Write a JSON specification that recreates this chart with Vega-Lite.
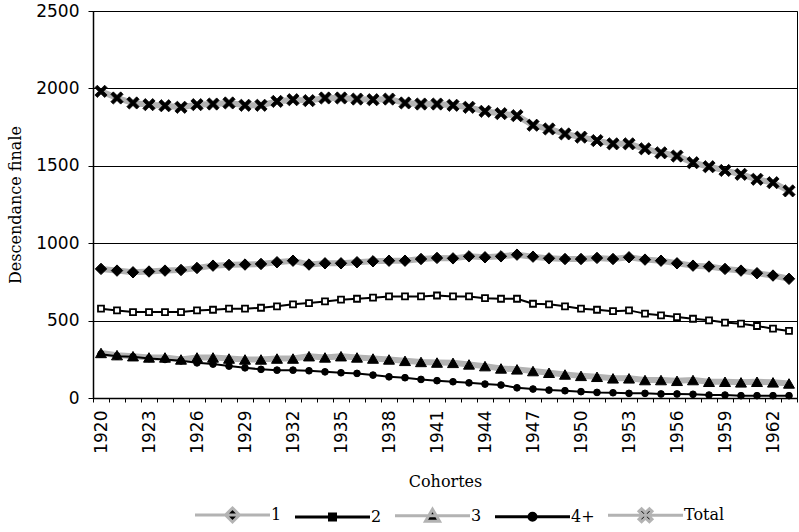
{
  "$schema": "https://vega.github.io/schema/vega-lite/v6.json",
  "width": 704,
  "height": 387,
  "autosize": "none",
  "padding": {"left": 93, "top": 11, "right": 2, "bottom": 134},
  "background": "white",
  "config": {
    "view": {"stroke": "#000", "strokeWidth": 1},
    "axis": {"labelColor": "#000", "titleColor": "#000", "domainColor": "#000", "tickColor": "#000"}
  },
  "data": {
    "values": [
      {"cohorte": 1920, "serie": "1", "valeur": 834}, {"cohorte": 1921, "serie": "1", "valeur": 823},
      {"cohorte": 1922, "serie": "1", "valeur": 812}, {"cohorte": 1923, "serie": "1", "valeur": 817},
      {"cohorte": 1924, "serie": "1", "valeur": 823}, {"cohorte": 1925, "serie": "1", "valeur": 827},
      {"cohorte": 1926, "serie": "1", "valeur": 840}, {"cohorte": 1927, "serie": "1", "valeur": 855},
      {"cohorte": 1928, "serie": "1", "valeur": 860}, {"cohorte": 1929, "serie": "1", "valeur": 862},
      {"cohorte": 1930, "serie": "1", "valeur": 866}, {"cohorte": 1931, "serie": "1", "valeur": 877},
      {"cohorte": 1932, "serie": "1", "valeur": 887}, {"cohorte": 1933, "serie": "1", "valeur": 862},
      {"cohorte": 1934, "serie": "1", "valeur": 870}, {"cohorte": 1935, "serie": "1", "valeur": 870},
      {"cohorte": 1936, "serie": "1", "valeur": 877}, {"cohorte": 1937, "serie": "1", "valeur": 883},
      {"cohorte": 1938, "serie": "1", "valeur": 887}, {"cohorte": 1939, "serie": "1", "valeur": 887},
      {"cohorte": 1940, "serie": "1", "valeur": 898}, {"cohorte": 1941, "serie": "1", "valeur": 905},
      {"cohorte": 1942, "serie": "1", "valeur": 902}, {"cohorte": 1943, "serie": "1", "valeur": 915},
      {"cohorte": 1944, "serie": "1", "valeur": 909}, {"cohorte": 1945, "serie": "1", "valeur": 915},
      {"cohorte": 1946, "serie": "1", "valeur": 926}, {"cohorte": 1947, "serie": "1", "valeur": 913},
      {"cohorte": 1948, "serie": "1", "valeur": 902}, {"cohorte": 1949, "serie": "1", "valeur": 898},
      {"cohorte": 1950, "serie": "1", "valeur": 898}, {"cohorte": 1951, "serie": "1", "valeur": 905},
      {"cohorte": 1952, "serie": "1", "valeur": 898}, {"cohorte": 1953, "serie": "1", "valeur": 909},
      {"cohorte": 1954, "serie": "1", "valeur": 894}, {"cohorte": 1955, "serie": "1", "valeur": 887},
      {"cohorte": 1956, "serie": "1", "valeur": 870}, {"cohorte": 1957, "serie": "1", "valeur": 855},
      {"cohorte": 1958, "serie": "1", "valeur": 849}, {"cohorte": 1959, "serie": "1", "valeur": 834},
      {"cohorte": 1960, "serie": "1", "valeur": 823}, {"cohorte": 1961, "serie": "1", "valeur": 806},
      {"cohorte": 1962, "serie": "1", "valeur": 791}, {"cohorte": 1963, "serie": "1", "valeur": 770},

      {"cohorte": 1920, "serie": "2", "valeur": 577}, {"cohorte": 1921, "serie": "2", "valeur": 566},
      {"cohorte": 1922, "serie": "2", "valeur": 555}, {"cohorte": 1923, "serie": "2", "valeur": 555},
      {"cohorte": 1924, "serie": "2", "valeur": 555}, {"cohorte": 1925, "serie": "2", "valeur": 555},
      {"cohorte": 1926, "serie": "2", "valeur": 566}, {"cohorte": 1927, "serie": "2", "valeur": 570},
      {"cohorte": 1928, "serie": "2", "valeur": 577}, {"cohorte": 1929, "serie": "2", "valeur": 577},
      {"cohorte": 1930, "serie": "2", "valeur": 583}, {"cohorte": 1931, "serie": "2", "valeur": 592},
      {"cohorte": 1932, "serie": "2", "valeur": 605}, {"cohorte": 1933, "serie": "2", "valeur": 613},
      {"cohorte": 1934, "serie": "2", "valeur": 624}, {"cohorte": 1935, "serie": "2", "valeur": 635},
      {"cohorte": 1936, "serie": "2", "valeur": 641}, {"cohorte": 1937, "serie": "2", "valeur": 648},
      {"cohorte": 1938, "serie": "2", "valeur": 656}, {"cohorte": 1939, "serie": "2", "valeur": 656},
      {"cohorte": 1940, "serie": "2", "valeur": 656}, {"cohorte": 1941, "serie": "2", "valeur": 662},
      {"cohorte": 1942, "serie": "2", "valeur": 656}, {"cohorte": 1943, "serie": "2", "valeur": 656},
      {"cohorte": 1944, "serie": "2", "valeur": 645}, {"cohorte": 1945, "serie": "2", "valeur": 641},
      {"cohorte": 1946, "serie": "2", "valeur": 641}, {"cohorte": 1947, "serie": "2", "valeur": 609},
      {"cohorte": 1948, "serie": "2", "valeur": 605}, {"cohorte": 1949, "serie": "2", "valeur": 592},
      {"cohorte": 1950, "serie": "2", "valeur": 577}, {"cohorte": 1951, "serie": "2", "valeur": 570},
      {"cohorte": 1952, "serie": "2", "valeur": 561}, {"cohorte": 1953, "serie": "2", "valeur": 566},
      {"cohorte": 1954, "serie": "2", "valeur": 545}, {"cohorte": 1955, "serie": "2", "valeur": 534},
      {"cohorte": 1956, "serie": "2", "valeur": 523}, {"cohorte": 1957, "serie": "2", "valeur": 512},
      {"cohorte": 1958, "serie": "2", "valeur": 502}, {"cohorte": 1959, "serie": "2", "valeur": 487},
      {"cohorte": 1960, "serie": "2", "valeur": 480}, {"cohorte": 1961, "serie": "2", "valeur": 465},
      {"cohorte": 1962, "serie": "2", "valeur": 448}, {"cohorte": 1963, "serie": "2", "valeur": 433},

      {"cohorte": 1920, "serie": "3", "valeur": 291}, {"cohorte": 1921, "serie": "3", "valeur": 277},
      {"cohorte": 1922, "serie": "3", "valeur": 270}, {"cohorte": 1923, "serie": "3", "valeur": 262},
      {"cohorte": 1924, "serie": "3", "valeur": 262}, {"cohorte": 1925, "serie": "3", "valeur": 249},
      {"cohorte": 1926, "serie": "3", "valeur": 262}, {"cohorte": 1927, "serie": "3", "valeur": 262},
      {"cohorte": 1928, "serie": "3", "valeur": 255}, {"cohorte": 1929, "serie": "3", "valeur": 249},
      {"cohorte": 1930, "serie": "3", "valeur": 249}, {"cohorte": 1931, "serie": "3", "valeur": 255},
      {"cohorte": 1932, "serie": "3", "valeur": 255}, {"cohorte": 1933, "serie": "3", "valeur": 270},
      {"cohorte": 1934, "serie": "3", "valeur": 262}, {"cohorte": 1935, "serie": "3", "valeur": 270},
      {"cohorte": 1936, "serie": "3", "valeur": 262}, {"cohorte": 1937, "serie": "3", "valeur": 255},
      {"cohorte": 1938, "serie": "3", "valeur": 249}, {"cohorte": 1939, "serie": "3", "valeur": 240},
      {"cohorte": 1940, "serie": "3", "valeur": 233}, {"cohorte": 1941, "serie": "3", "valeur": 229},
      {"cohorte": 1942, "serie": "3", "valeur": 227}, {"cohorte": 1943, "serie": "3", "valeur": 217},
      {"cohorte": 1944, "serie": "3", "valeur": 206}, {"cohorte": 1945, "serie": "3", "valeur": 191},
      {"cohorte": 1946, "serie": "3", "valeur": 185}, {"cohorte": 1947, "serie": "3", "valeur": 174},
      {"cohorte": 1948, "serie": "3", "valeur": 163}, {"cohorte": 1949, "serie": "3", "valeur": 152},
      {"cohorte": 1950, "serie": "3", "valeur": 143}, {"cohorte": 1951, "serie": "3", "valeur": 137},
      {"cohorte": 1952, "serie": "3", "valeur": 127}, {"cohorte": 1953, "serie": "3", "valeur": 127},
      {"cohorte": 1954, "serie": "3", "valeur": 116}, {"cohorte": 1955, "serie": "3", "valeur": 116},
      {"cohorte": 1956, "serie": "3", "valeur": 111}, {"cohorte": 1957, "serie": "3", "valeur": 116},
      {"cohorte": 1958, "serie": "3", "valeur": 105}, {"cohorte": 1959, "serie": "3", "valeur": 105},
      {"cohorte": 1960, "serie": "3", "valeur": 101}, {"cohorte": 1961, "serie": "3", "valeur": 105},
      {"cohorte": 1962, "serie": "3", "valeur": 101}, {"cohorte": 1963, "serie": "3", "valeur": 94},

      {"cohorte": 1920, "serie": "4+", "valeur": 283}, {"cohorte": 1921, "serie": "4+", "valeur": 270},
      {"cohorte": 1922, "serie": "4+", "valeur": 266}, {"cohorte": 1923, "serie": "4+", "valeur": 255},
      {"cohorte": 1924, "serie": "4+", "valeur": 249}, {"cohorte": 1925, "serie": "4+", "valeur": 240},
      {"cohorte": 1926, "serie": "4+", "valeur": 227}, {"cohorte": 1927, "serie": "4+", "valeur": 219},
      {"cohorte": 1928, "serie": "4+", "valeur": 206}, {"cohorte": 1929, "serie": "4+", "valeur": 195},
      {"cohorte": 1930, "serie": "4+", "valeur": 185}, {"cohorte": 1931, "serie": "4+", "valeur": 180},
      {"cohorte": 1932, "serie": "4+", "valeur": 180}, {"cohorte": 1933, "serie": "4+", "valeur": 176},
      {"cohorte": 1934, "serie": "4+", "valeur": 169}, {"cohorte": 1935, "serie": "4+", "valeur": 163},
      {"cohorte": 1936, "serie": "4+", "valeur": 159}, {"cohorte": 1937, "serie": "4+", "valeur": 148},
      {"cohorte": 1938, "serie": "4+", "valeur": 137}, {"cohorte": 1939, "serie": "4+", "valeur": 131},
      {"cohorte": 1940, "serie": "4+", "valeur": 120}, {"cohorte": 1941, "serie": "4+", "valeur": 112},
      {"cohorte": 1942, "serie": "4+", "valeur": 105}, {"cohorte": 1943, "serie": "4+", "valeur": 98},
      {"cohorte": 1944, "serie": "4+", "valeur": 90}, {"cohorte": 1945, "serie": "4+", "valeur": 84},
      {"cohorte": 1946, "serie": "4+", "valeur": 66}, {"cohorte": 1947, "serie": "4+", "valeur": 58},
      {"cohorte": 1948, "serie": "4+", "valeur": 51}, {"cohorte": 1949, "serie": "4+", "valeur": 47},
      {"cohorte": 1950, "serie": "4+", "valeur": 41}, {"cohorte": 1951, "serie": "4+", "valeur": 36},
      {"cohorte": 1952, "serie": "4+", "valeur": 34}, {"cohorte": 1953, "serie": "4+", "valeur": 30},
      {"cohorte": 1954, "serie": "4+", "valeur": 30}, {"cohorte": 1955, "serie": "4+", "valeur": 26},
      {"cohorte": 1956, "serie": "4+", "valeur": 26}, {"cohorte": 1957, "serie": "4+", "valeur": 24},
      {"cohorte": 1958, "serie": "4+", "valeur": 19}, {"cohorte": 1959, "serie": "4+", "valeur": 19},
      {"cohorte": 1960, "serie": "4+", "valeur": 15}, {"cohorte": 1961, "serie": "4+", "valeur": 15},
      {"cohorte": 1962, "serie": "4+", "valeur": 15}, {"cohorte": 1963, "serie": "4+", "valeur": 15},

      {"cohorte": 1920, "serie": "Total", "valeur": 1981}, {"cohorte": 1921, "serie": "Total", "valeur": 1938},
      {"cohorte": 1922, "serie": "Total", "valeur": 1906}, {"cohorte": 1923, "serie": "Total", "valeur": 1895},
      {"cohorte": 1924, "serie": "Total", "valeur": 1888}, {"cohorte": 1925, "serie": "Total", "valeur": 1878},
      {"cohorte": 1926, "serie": "Total", "valeur": 1895}, {"cohorte": 1927, "serie": "Total", "valeur": 1899},
      {"cohorte": 1928, "serie": "Total", "valeur": 1906}, {"cohorte": 1929, "serie": "Total", "valeur": 1891},
      {"cohorte": 1930, "serie": "Total", "valeur": 1891}, {"cohorte": 1931, "serie": "Total", "valeur": 1916},
      {"cohorte": 1932, "serie": "Total", "valeur": 1927}, {"cohorte": 1933, "serie": "Total", "valeur": 1921},
      {"cohorte": 1934, "serie": "Total", "valeur": 1938}, {"cohorte": 1935, "serie": "Total", "valeur": 1938},
      {"cohorte": 1936, "serie": "Total", "valeur": 1931}, {"cohorte": 1937, "serie": "Total", "valeur": 1927},
      {"cohorte": 1938, "serie": "Total", "valeur": 1931}, {"cohorte": 1939, "serie": "Total", "valeur": 1906},
      {"cohorte": 1940, "serie": "Total", "valeur": 1899}, {"cohorte": 1941, "serie": "Total", "valeur": 1899},
      {"cohorte": 1942, "serie": "Total", "valeur": 1891}, {"cohorte": 1943, "serie": "Total", "valeur": 1878},
      {"cohorte": 1944, "serie": "Total", "valeur": 1852}, {"cohorte": 1945, "serie": "Total", "valeur": 1837},
      {"cohorte": 1946, "serie": "Total", "valeur": 1824}, {"cohorte": 1947, "serie": "Total", "valeur": 1762},
      {"cohorte": 1948, "serie": "Total", "valeur": 1738}, {"cohorte": 1949, "serie": "Total", "valeur": 1706},
      {"cohorte": 1950, "serie": "Total", "valeur": 1685}, {"cohorte": 1951, "serie": "Total", "valeur": 1663},
      {"cohorte": 1952, "serie": "Total", "valeur": 1642}, {"cohorte": 1953, "serie": "Total", "valeur": 1642},
      {"cohorte": 1954, "serie": "Total", "valeur": 1610}, {"cohorte": 1955, "serie": "Total", "valeur": 1584},
      {"cohorte": 1956, "serie": "Total", "valeur": 1563}, {"cohorte": 1957, "serie": "Total", "valeur": 1520},
      {"cohorte": 1958, "serie": "Total", "valeur": 1494}, {"cohorte": 1959, "serie": "Total", "valeur": 1470},
      {"cohorte": 1960, "serie": "Total", "valeur": 1445}, {"cohorte": 1961, "serie": "Total", "valeur": 1413},
      {"cohorte": 1962, "serie": "Total", "valeur": 1391}, {"cohorte": 1963, "serie": "Total", "valeur": 1338}
    ]
  },
  "encoding": {
    "x": {
      "field": "cohorte",
      "type": "ordinal",
      "bandPosition": 0.5,
      "scale": {"type": "band", "paddingInner": 0, "paddingOuter": 0},
      "axis": {
        "title": "Cohortes",
        "titleFont": "DejaVu Serif",
        "titleFontSize": 16,
        "titleFontWeight": "normal",
        "titlePadding": 20,
        "labelFont": "DejaVu Sans",
        "labelFontSize": 17,
        "labelAngle": -90,
        "labelPadding": 8,
        "labelOverlap": false,
        "labelExpr": "(datum.value - 1920) % 3 === 0 ? datum.value : ''",
        "tickSize": 4,
        "tickBand": "extent",
        "domainWidth": 1.5
      }
    },
    "y": {
      "field": "valeur",
      "type": "quantitative",
      "scale": {"domain": [0, 2500]},
      "axis": {
        "title": "Descendance finale",
        "titleFont": "DejaVu Serif",
        "titleFontSize": 16,
        "titleFontWeight": "normal",
        "titlePadding": 12,
        "values": [0, 500, 1000, 1500, 2000, 2500],
        "format": "d",
        "labelFont": "DejaVu Sans",
        "labelFontSize": 17,
        "labelPadding": 9,
        "tickSize": 5,
        "grid": true,
        "gridColor": "#000",
        "gridWidth": 1,
        "domainWidth": 1.5
      }
    }
  },
  "layer": [
    {
      "mark": {"type": "line", "strokeJoin": "round"},
      "encoding": {
        "stroke": {
          "field": "serie",
          "type": "nominal",
          "scale": {"domain": ["1", "2", "3", "4+", "Total"], "range": ["#b3b3b3", "#000000", "#b3b3b3", "#000000", "#b3b3b3"]},
          "legend": {
            "orient": "none",
            "legendX": 102,
            "legendY": 496,
            "direction": "horizontal",
            "columns": 5,
            "title": null,
            "symbolSize": 100,
            "symbolOffset": 29.5,
            "labelOffset": 30.5,
            "columnPadding": 7,
            "symbolType": {"expr": "datum.value === '1' ? 'M-7.5,0H7.5M0,-1.4L1.4,0L0,1.4L-1.4,0Z' : datum.value === '2' ? 'M-7.5,0H7.5M-0.6,-0.6H0.6V0.6H-0.6Z' : datum.value === '3' ? 'M-7.5,0H7.5M0,-1.3L1.4,1.1L-1.4,1.1Z' : datum.value === '4+' ? 'M-7.5,0H7.5M-0.7,0A0.7,0.7,0,1,0,0.7,0A0.7,0.7,0,1,0,-0.7,0Z' : 'M-7.5,0H7.5M-1.3,-0.78L-0.78,-1.3L0,-0.52L0.78,-1.3L1.3,-0.78L0.52,0L1.3,0.78L0.78,1.3L0,0.52L-0.78,1.3L-1.3,0.78L-0.52,0Z'"},
            "symbolFillColor": "#000",
            "symbolStrokeWidth": 3,
            "symbolOpacity": 1,
            "labelFont": "DejaVu Serif",
            "labelFontSize": 16,
            "labelColor": "#000"
          }
        },
        "strokeWidth": {"condition": {"test": "datum.serie === '2' || datum.serie === '4+'", "value": 2}, "value": 6}
      }
    },
    {
      "transform": [{"filter": "datum.serie === '1'"}],
      "mark": {"type": "point", "shape": "diamond", "size": 130, "filled": true, "fill": "#000", "stroke": "#000", "strokeWidth": 1, "opacity": 1}
    },
    {
      "transform": [{"filter": "datum.serie === '2'"}],
      "mark": {"type": "point", "shape": "square", "size": 36, "filled": true, "fill": "#fff", "stroke": "#000", "strokeWidth": 1.8, "opacity": 1}
    },
    {
      "transform": [{"filter": "datum.serie === '3'"}],
      "mark": {"type": "point", "shape": "triangle-up", "size": 120, "filled": true, "fill": "#000", "stroke": "#000", "strokeWidth": 1, "opacity": 1}
    },
    {
      "transform": [{"filter": "datum.serie === '4+'"}],
      "mark": {"type": "point", "shape": "circle", "size": 45, "filled": true, "fill": "#000", "stroke": "#000", "strokeWidth": 1, "opacity": 1}
    },
    {
      "transform": [{"filter": "datum.serie === 'Total'"}],
      "mark": {"type": "point", "shape": "M-1,-0.6L-0.6,-1L0,-0.4L0.6,-1L1,-0.6L0.4,0L1,0.6L0.6,1L0,0.4L-0.6,1L-1,0.6L-0.4,0Z", "size": 150, "filled": true, "fill": "#000", "stroke": "#000", "strokeWidth": 0.8, "opacity": 1}
    }
  ]
}
